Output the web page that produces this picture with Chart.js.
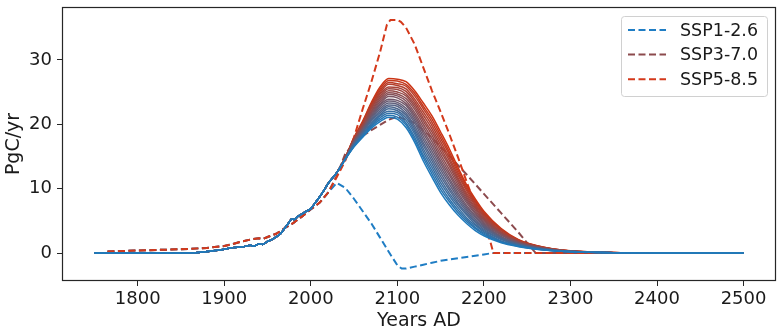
<!DOCTYPE html>
<html>
<head>
<meta charset="utf-8">
<script src="https://cdn.jsdelivr.net/npm/chart.js@4.4.1/dist/chart.umd.min.js"></script>
<style>
  html, body { margin: 0; padding: 0; background: #fff; }
  #wrap { width: 784px; height: 334px; }
</style>
</head>
<body>
<div id="wrap"><canvas id="fluxChart" width="784" height="334"></canvas></div>
<script>
// shared historical part of the model runs
const histYears = [1750, 1800, 1840, 1860, 1870, 1880, 1890, 1900, 1910, 1920, 1926, 1930, 1932, 1934, 1937, 1941, 1944, 1947, 1950, 1955, 1960, 1965, 1970, 1975, 1978, 1981, 1985, 1990, 1995, 2000, 2005, 2010, 2015, 2020, 2030];
const histFlux  = [0, 0, 0.02, 0.05, 0.1, 0.25, 0.4, 0.6, 0.85, 0.95, 1.1, 1.2, 1.15, 1.05, 1.25, 1.45, 1.35, 1.55, 1.8, 2.1, 2.5, 3.0, 3.9, 4.8, 5.3, 5.2, 5.7, 6.1, 6.5, 6.9, 7.8, 8.7, 9.7, 10.8, 12.5];

// model runs after 2030 (run01 = bluest, run20 = reddest)
const futureYears = [2040, 2050, 2060, 2070, 2080, 2090, 2100, 2110, 2120, 2130, 2140, 2150, 2160, 2170, 2180, 2190, 2200, 2220, 2240, 2260, 2280, 2300, 2350, 2400, 2500];
const run01 = [14.6, 16.5, 18.0, 19.4, 20.4, 21.1, 20.8, 19.5, 17.2, 14.3, 11.8, 9.4, 7.5, 5.9, 4.6, 3.5, 2.7, 1.6, 1.0, 0.6, 0.35, 0.2, 0.05, 0.01, 0];
const run02 = [14.6, 16.6, 18.1, 19.6, 20.7, 21.4, 21.1, 19.9, 17.6, 14.8, 12.3, 9.9, 8.0, 6.3, 4.9, 3.8, 2.9, 1.7, 1.06, 0.63, 0.37, 0.21, 0.05, 0.01, 0];
const run03 = [14.6, 16.7, 18.3, 19.8, 21.0, 21.7, 21.5, 20.2, 18.0, 15.2, 12.8, 10.4, 8.4, 6.7, 5.2, 4.0, 3.1, 1.8, 1.12, 0.66, 0.38, 0.22, 0.05, 0.01, 0];
const run04 = [14.6, 16.7, 18.4, 20.0, 21.3, 22.0, 21.8, 20.6, 18.5, 15.7, 13.3, 10.9, 8.9, 7.1, 5.5, 4.3, 3.3, 1.9, 1.17, 0.69, 0.40, 0.22, 0.05, 0.01, 0];
const run05 = [14.7, 16.8, 18.5, 20.2, 21.5, 22.4, 22.1, 21.0, 18.9, 16.2, 13.8, 11.4, 9.3, 7.5, 5.9, 4.5, 3.5, 2.1, 1.23, 0.73, 0.41, 0.23, 0.06, 0.01, 0];
const run06 = [14.7, 16.9, 18.7, 20.5, 21.8, 22.7, 22.4, 21.4, 19.3, 16.7, 14.3, 11.9, 9.8, 7.8, 6.2, 4.8, 3.7, 2.2, 1.29, 0.76, 0.43, 0.24, 0.06, 0.01, 0];
const run07 = [14.7, 17.0, 18.8, 20.7, 22.1, 23.0, 22.8, 21.7, 19.7, 17.1, 14.8, 12.4, 10.2, 8.2, 6.5, 5.0, 3.9, 2.3, 1.35, 0.79, 0.44, 0.25, 0.06, 0.01, 0];
const run08 = [14.7, 17.1, 18.9, 20.9, 22.4, 23.3, 23.1, 22.1, 20.2, 17.6, 15.3, 12.9, 10.7, 8.6, 6.8, 5.3, 4.1, 2.4, 1.41, 0.82, 0.46, 0.26, 0.06, 0.01, 0];
const run09 = [14.7, 17.1, 19.1, 21.1, 22.7, 23.6, 23.4, 22.5, 20.6, 18.1, 15.8, 13.4, 11.2, 9.0, 7.1, 5.6, 4.3, 2.5, 1.46, 0.85, 0.48, 0.26, 0.06, 0.01, 0];
const run10 = [14.7, 17.2, 19.2, 21.3, 23.0, 23.9, 23.7, 22.9, 21.0, 18.6, 16.3, 13.9, 11.6, 9.4, 7.4, 5.8, 4.5, 2.6, 1.52, 0.88, 0.49, 0.27, 0.06, 0.01, 0];
const run11 = [14.8, 17.3, 19.3, 21.5, 23.2, 24.3, 24.1, 23.2, 21.4, 19.0, 16.8, 14.3, 12.1, 9.8, 7.8, 6.1, 4.7, 2.8, 1.58, 0.92, 0.51, 0.28, 0.07, 0.02, 0];
const run12 = [14.8, 17.4, 19.4, 21.7, 23.5, 24.6, 24.4, 23.6, 21.8, 19.5, 17.3, 14.8, 12.5, 10.2, 8.1, 6.3, 4.9, 2.9, 1.64, 0.95, 0.52, 0.29, 0.07, 0.02, 0];
const run13 = [14.8, 17.4, 19.6, 21.9, 23.8, 24.9, 24.7, 24.0, 22.3, 20.0, 17.8, 15.3, 13.0, 10.6, 8.4, 6.6, 5.1, 3.0, 1.69, 0.98, 0.54, 0.29, 0.07, 0.02, 0];
const run14 = [14.8, 17.5, 19.7, 22.1, 24.1, 25.2, 25.0, 24.4, 22.7, 20.5, 18.3, 15.8, 13.5, 11.0, 8.7, 6.9, 5.3, 3.1, 1.75, 1.01, 0.56, 0.30, 0.07, 0.02, 0];
const run15 = [14.8, 17.6, 19.8, 22.4, 24.4, 25.5, 25.4, 24.7, 23.1, 20.9, 18.8, 16.3, 13.9, 11.4, 9.0, 7.1, 5.5, 3.2, 1.81, 1.04, 0.57, 0.31, 0.07, 0.02, 0];
const run16 = [14.8, 17.7, 20.0, 22.6, 24.7, 25.8, 25.7, 25.1, 23.5, 21.4, 19.3, 16.8, 14.4, 11.7, 9.3, 7.4, 5.7, 3.3, 1.87, 1.07, 0.59, 0.32, 0.07, 0.02, 0];
const run17 = [14.9, 17.8, 20.1, 22.8, 24.9, 26.2, 26.0, 25.5, 23.9, 21.9, 19.8, 17.3, 14.8, 12.1, 9.7, 7.6, 5.9, 3.5, 1.93, 1.11, 0.60, 0.33, 0.07, 0.02, 0];
const run18 = [14.9, 17.8, 20.2, 23.0, 25.2, 26.5, 26.3, 25.9, 24.4, 22.4, 20.3, 17.8, 15.3, 12.5, 10.0, 7.9, 6.1, 3.6, 1.98, 1.14, 0.62, 0.33, 0.08, 0.02, 0];
const run19 = [14.9, 17.9, 20.4, 23.2, 25.5, 26.8, 26.7, 26.2, 24.8, 22.8, 20.8, 18.3, 15.7, 12.9, 10.3, 8.1, 6.3, 3.7, 2.04, 1.17, 0.63, 0.34, 0.08, 0.02, 0];
const run20 = [14.9, 18.0, 20.5, 23.4, 25.8, 27.1, 27.0, 26.6, 25.2, 23.3, 21.3, 18.8, 16.2, 13.3, 10.6, 8.4, 6.5, 3.8, 2.1, 1.2, 0.65, 0.35, 0.08, 0.02, 0];
const runs = [run01, run02, run03, run04, run05, run06, run07, run08, run09, run10,
              run11, run12, run13, run14, run15, run16, run17, run18, run19, run20];

// scenario emissions (dashed), shared history up to 2020
const sspHistYears = [1765, 1800, 1850, 1880, 1900, 1910, 1920, 1930, 1940, 1945, 1950, 1960, 1970, 1980, 1990, 2000, 2010, 2020];
const sspHistFlux  = [0.25, 0.4, 0.6, 0.8, 1.1, 1.4, 1.8, 2.1, 2.3, 2.2, 2.5, 3.0, 3.9, 4.7, 5.7, 6.8, 7.8, 9.4];

const ssp126Years = [2030, 2040, 2050, 2060, 2070, 2080, 2090, 2100, 2105, 2110, 2120, 2130, 2140, 2150, 2160, 2170, 2180, 2190, 2200, 2210, 2300, 2500];
const ssp126Flux  = [10.9, 10.1, 8.4, 6.5, 4.6, 2.4, 0.2, -1.9, -2.4, -2.4, -2.1, -1.8, -1.5, -1.2, -1.0, -0.8, -0.6, -0.4, -0.2, 0, 0, 0];

const ssp370Years = [2030, 2040, 2050, 2060, 2070, 2080, 2090, 2100, 2120, 2140, 2160, 2180, 2200, 2220, 2240, 2258, 2260, 2300, 2500];
const ssp370Flux  = [12.0, 15.5, 17.0, 18.2, 19.1, 19.9, 20.7, 21.2, 20.2, 17.9, 15.1, 12.2, 9.2, 6.2, 3.2, 0.3, 0, 0, 0];

const ssp585Years = [2030, 2040, 2050, 2060, 2070, 2080, 2088, 2092, 2100, 2104, 2110, 2120, 2130, 2140, 2150, 2160, 2170, 2180, 2190, 2200, 2207, 2211, 2300, 2500];
const ssp585Flux  = [11.8, 14.4, 18.0, 22.4, 26.6, 31.2, 35.5, 36.2, 36.2, 35.9, 35.0, 32.4, 28.8, 25.2, 21.9, 18.5, 14.9, 11.1, 7.4, 4.3, 2.0, 0, 0, 0];

const sspLabels = ['SSP1-2.6', 'SSP3-7.0', 'SSP5-8.5'];
const sspColors = ['#1f7dc4', '#8c4a4d', '#d4391b'];

const xTickYears = [1800, 1900, 2000, 2100, 2200, 2300, 2400, 2500];
const yTickValues = [0, 10, 20, 30];

function points(xs, ys) {
    return xs.map((x, i) => ({ x: x, y: ys[i] }));
}

// blue -> red colour for the model runs
function runColor(i, n) {
    const t = i / (n - 1);
    const a = [31, 121, 186], b = [204, 52, 20];
    const c = a.map((v, j) => Math.round(v + (b[j] - v) * t));
    return `rgb(${c[0]},${c[1]},${c[2]})`;
}

const datasets = [];
// runs first so they are drawn on top of the dashed scenarios; bluest on top
runs.forEach((r, i) => {
    datasets.push({
        data: points(histYears, histFlux).concat(points(futureYears, r)),
        borderColor: runColor(i, runs.length),
        borderWidth: 1.5,
        pointRadius: 0,
        cubicInterpolationMode: 'monotone',
        fill: false
    });
});
const sspData = [
    points(sspHistYears, sspHistFlux).concat(points(ssp126Years, ssp126Flux)),
    points(sspHistYears, sspHistFlux).concat(points(ssp370Years, ssp370Flux)),
    points(sspHistYears, sspHistFlux).concat(points(ssp585Years, ssp585Flux))
];
// SSP5-8.5 over SSP3-7.0 over SSP1-2.6
[2, 1, 0].forEach(i => {
    datasets.push({
        label: sspLabels[i],
        data: sspData[i],
        borderColor: sspColors[i],
        borderWidth: 2,
        borderDash: [7, 3.5],
        pointRadius: 0,
        tension: 0,
        fill: false
    });
});

const tickFont = { family: 'DejaVu Sans', size: 18 };
const titleFont = { family: 'DejaVu Sans', size: 19 };

const frame = {
    id: 'frame',
    afterDatasetsDraw(chart) {
        const a = chart.chartArea, ctx = chart.ctx;
        ctx.save();
        ctx.strokeStyle = '#262626';
        ctx.lineWidth = 1.2;
        ctx.strokeRect(Math.round(a.left) + 0.5, Math.round(a.top) + 0.5,
                       Math.round(a.right - a.left) - 1, Math.round(a.bottom - a.top) - 1);
        ctx.restore();
    }
};

const legendBox = {
    id: 'legendBox',
    afterDraw(chart) {
        const ctx = chart.ctx;
        const x = 621, y = 16, w = 146, h = 80;
        ctx.save();
        ctx.beginPath();
        ctx.roundRect(x + 0.5, y + 0.5, w, h, 3);
        ctx.fillStyle = 'rgba(255,255,255,0.8)';
        ctx.fill();
        ctx.strokeStyle = '#d0d0d0';
        ctx.lineWidth = 1;
        ctx.stroke();
        sspLabels.forEach((lab, i) => {
            const yy = 30 + i * 24.6;
            ctx.beginPath();
            ctx.setLineDash([7, 3.5]);
            ctx.strokeStyle = sspColors[i];
            ctx.lineWidth = 2;
            ctx.moveTo(628, yy);
            ctx.lineTo(666, yy);
            ctx.stroke();
            ctx.setLineDash([]);
            ctx.fillStyle = '#1a1a1a';
            ctx.font = '17.5px "DejaVu Sans"';
            ctx.textBaseline = 'middle';
            ctx.fillText(lab, 680, yy + 1);
        });
        ctx.restore();
    }
};

new Chart(document.getElementById('fluxChart').getContext('2d'), {
    type: 'line',
    data: { datasets: datasets },
    options: {
        responsive: false,
        animation: false,
        devicePixelRatio: 1,
        layout: { padding: { top: 7, right: 8, left: 0, bottom: 0 } },
        plugins: { legend: { display: false }, tooltip: { enabled: false } },
        scales: {
            x: {
                type: 'linear',
                min: 1712.5,
                max: 2537.5,
                afterBuildTicks: s => { s.ticks = xTickYears.map(v => ({ value: v })); },
                afterFit: s => { s.height = 53; s.paddingLeft = 0; s.paddingRight = 0; },
                ticks: { font: tickFont, color: '#1a1a1a', padding: 3, maxRotation: 0, autoSkip: false,
                         callback: v => String(v) },
                grid: { drawOnChartArea: false, tickLength: 5, color: '#262626' },
                border: { display: false },
                title: { display: true, text: 'Years AD', color: '#1a1a1a',
                         font: titleFont, padding: { top: 0, bottom: 2 } }
            },
            y: {
                min: -4.33,
                max: 38.2,
                afterBuildTicks: s => { s.ticks = yTickValues.map(v => ({ value: v })); },
                afterFit: s => { s.width = 62; s.paddingTop = 0; s.paddingBottom = 0; },
                ticks: { font: tickFont, color: '#1a1a1a', padding: 5, callback: v => String(v) },
                grid: { drawOnChartArea: false, tickLength: 5, color: '#262626' },
                border: { display: false },
                title: { display: true, text: 'PgC/yr', color: '#1a1a1a',
                         font: titleFont, padding: { top: 3, bottom: 0 } }
            }
        }
    },
    plugins: [frame, legendBox]
});
</script>
</body>
</html>
